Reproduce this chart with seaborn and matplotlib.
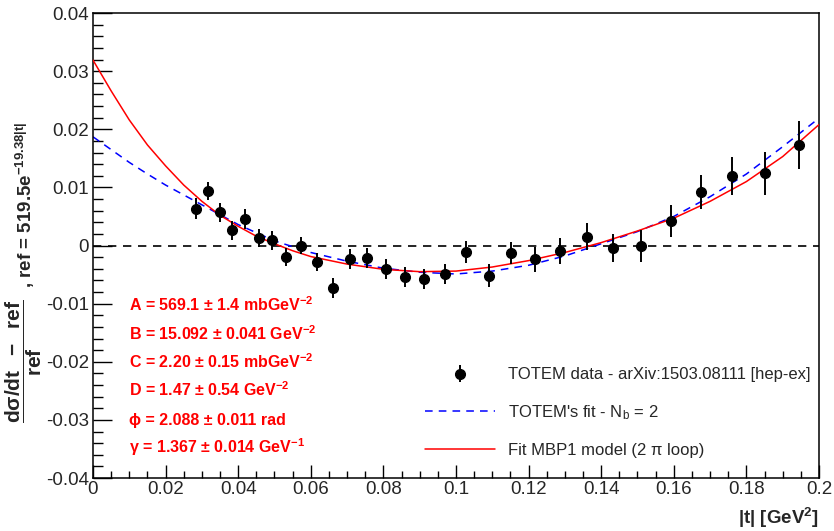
import matplotlib
matplotlib.use("Agg")
import pandas as pd
import seaborn as sns
import matplotlib.pyplot as plt
from matplotlib.lines import Line2D
from matplotlib.ticker import MultipleLocator

# TOTEM data points: |t|, relative deviation, error
t_data = [0.0285, 0.0317, 0.0349, 0.0383, 0.0418, 0.0456, 0.0492, 0.0533, 0.0574, 0.0617,
          0.0662, 0.0707, 0.0756, 0.0808, 0.0859, 0.0913, 0.0969, 0.1028, 0.1090, 0.1152,
          0.1219, 0.1287, 0.1360, 0.1433, 0.1509, 0.1591, 0.1674, 0.1761, 0.1852, 0.1945]
dev_data = [0.0063, 0.0094, 0.0057, 0.0026, 0.0045, 0.0013, 0.0009, -0.0020, 0.0000, -0.0028,
            -0.0073, -0.0023, -0.0022, -0.0041, -0.0054, -0.0058, -0.0049, -0.0011, -0.0052, -0.0013,
            -0.0024, -0.0009, 0.0015, -0.0005, -0.0001, 0.0042, 0.0092, 0.0120, 0.0124, 0.0173]
dev_err = [0.0018, 0.0016, 0.0016, 0.0016, 0.0017, 0.0015, 0.0016, 0.0015, 0.0015, 0.0015,
           0.0017, 0.0017, 0.0017, 0.0017, 0.0017, 0.0017, 0.0018, 0.0019, 0.0020, 0.0019,
           0.0022, 0.0022, 0.0023, 0.0024, 0.0027, 0.0027, 0.0030, 0.0033, 0.0037, 0.0041]

# fitted curves
t_curve = [0.0, 0.005, 0.01, 0.015, 0.02, 0.025, 0.03, 0.035, 0.04, 0.045, 0.05, 0.055,
           0.06, 0.07, 0.08, 0.09, 0.10, 0.11, 0.12, 0.13, 0.14, 0.15, 0.16, 0.17, 0.18, 0.19, 0.20]
mbp1_fit = [0.0319, 0.0266, 0.0216, 0.0173, 0.0137, 0.0104, 0.0076, 0.0052, 0.0033, 0.0016, 0.0003, -0.0009,
            -0.0019, -0.0032, -0.0041, -0.0045, -0.0044, -0.0037, -0.0026, -0.0012, 0.0005, 0.0025, 0.0047,
            0.0076, 0.0110, 0.0153, 0.0208]
totem_fit = [0.0187, 0.0165, 0.0143, 0.0123, 0.0104, 0.0087, 0.0070, 0.0053, 0.0036, 0.0022, 0.0008, -0.0002,
             -0.0012, -0.0027, -0.0039, -0.0046, -0.0049, -0.0044, -0.0034, -0.0018, 0.0003, 0.0024, 0.0050,
             0.0084, 0.0123, 0.0170, 0.0219]

fit_params = [
    r"A = 569.1 ± 1.4 mbGeV$^{\mathbf{-2}}$",
    r"B = 15.092 ± 0.041 GeV$^{\mathbf{-2}}$",
    r"C = 2.20 ± 0.15 mbGeV$^{\mathbf{-2}}$",
    r"D = 1.47 ± 0.54 GeV$^{\mathbf{-2}}$",
    r"ϕ = 2.088 ± 0.011 rad",
    r"γ = 1.367 ± 0.014 GeV$^{\mathbf{-1}}$",
]

df_data = pd.DataFrame({"t": t_data, "dev": dev_data, "err": dev_err})
df_curve = pd.DataFrame({"t": t_curve, "mbp1": mbp1_fit, "totem": totem_fit})

sns.set_style("ticks")
plt.rcParams["font.family"] = ["Liberation Sans", "DejaVu Sans"]
plt.rcParams["mathtext.fontset"] = "custom"
plt.rcParams["mathtext.rm"] = "Liberation Sans"
plt.rcParams["mathtext.it"] = "Liberation Sans:italic"
plt.rcParams["mathtext.bf"] = "Liberation Sans:bold"

fig = plt.figure(figsize=(8.34, 5.31), dpi=100)
ax = fig.add_axes([0.1115, 0.0998, 0.8705, 0.8757])

ax.axhline(0, color="black", ls=(0, (5, 4)), lw=1.2, zorder=1)

sns.lineplot(data=df_curve, x="t", y="totem", ax=ax, color="#0000ff", lw=1.1,
             dashes=False, ls=(0, (5, 4)), zorder=2)
sns.lineplot(data=df_curve, x="t", y="mbp1", ax=ax, color="#ff0000", lw=1.1, zorder=3)

data_eb = ax.errorbar(df_data["t"], df_data["dev"], yerr=df_data["err"], fmt="o", ms=7,
                      color="black", ecolor="black", elinewidth=1.4, capsize=0, zorder=4)

ax.set_xlim(0, 0.2)
ax.set_ylim(-0.04, 0.04)
ax.xaxis.set_major_locator(MultipleLocator(0.02))
ax.xaxis.set_minor_locator(MultipleLocator(0.005))
ax.yaxis.set_major_locator(MultipleLocator(0.01))
ax.yaxis.set_minor_locator(MultipleLocator(0.002))
ax.xaxis.set_major_formatter(plt.FuncFormatter(lambda v, p: "0" if abs(v) < 1e-9 else f"{v:g}"))
ax.yaxis.set_major_formatter(plt.FuncFormatter(lambda v, p: "0" if abs(v) < 1e-9 else f"{v:g}"))

ax.tick_params(axis="both", which="both", direction="in", top=False, right=False,
               labelsize=13.5, color="black")
ax.tick_params(axis="y", which="major", length=14, width=1.0, pad=3)
ax.tick_params(axis="y", which="minor", length=7, width=1.0)
ax.tick_params(axis="x", which="major", length=9.5, width=1.0, pad=2)
ax.tick_params(axis="x", which="minor", length=5, width=1.0)
for sp in ax.spines.values():
    sp.set_linewidth(1.1)
    sp.set_color("black")

ax.set_xlabel(r"|t| [GeV$^{\mathbf{2}}$]", fontsize=13.5, fontweight="bold", loc="right", labelpad=6)
ax.set_ylabel("")

# y title: fraction part + reference function part
fig.text(0.0285, 0.320, r"$\dfrac{\mathbf{d\sigma/dt\ \ -\ \ ref}}{\mathbf{ref}}$",
         rotation=90, ha="center", va="center", fontsize=15)
fig.text(0.031, 0.614, r", ref = 519.5e$^{\mathbf{-19.38|t|}}$",
         rotation=90, ha="center", va="center", fontsize=13.5, fontweight="bold")

for i, txt in enumerate(fit_params):
    ax.text(0.0495, 0.359 - i * 0.0612, txt, transform=ax.transAxes, color="#ff0000",
            fontsize=11.5, fontweight="bold", va="baseline")

handles = [
    data_eb,
    Line2D([], [], color="#0000ff", ls=(0, (5, 4)), lw=1.1),
    Line2D([], [], color="#ff0000", lw=1.1),
]
labels = ["TOTEM data - arXiv:1503.08111 [hep-ex]",
          r"TOTEM's fit - N$_{\mathregular{b}}$ = 2",
          "Fit MBP1 model (2 π loop)"]
ax.legend(handles, labels, loc="upper left", bbox_to_anchor=(0.448, 0.252),
          frameon=False, fontsize=12, handlelength=4.2, handletextpad=0.8, labelspacing=1.25,
          borderaxespad=0)

fig.savefig("out.png", dpi=100)
